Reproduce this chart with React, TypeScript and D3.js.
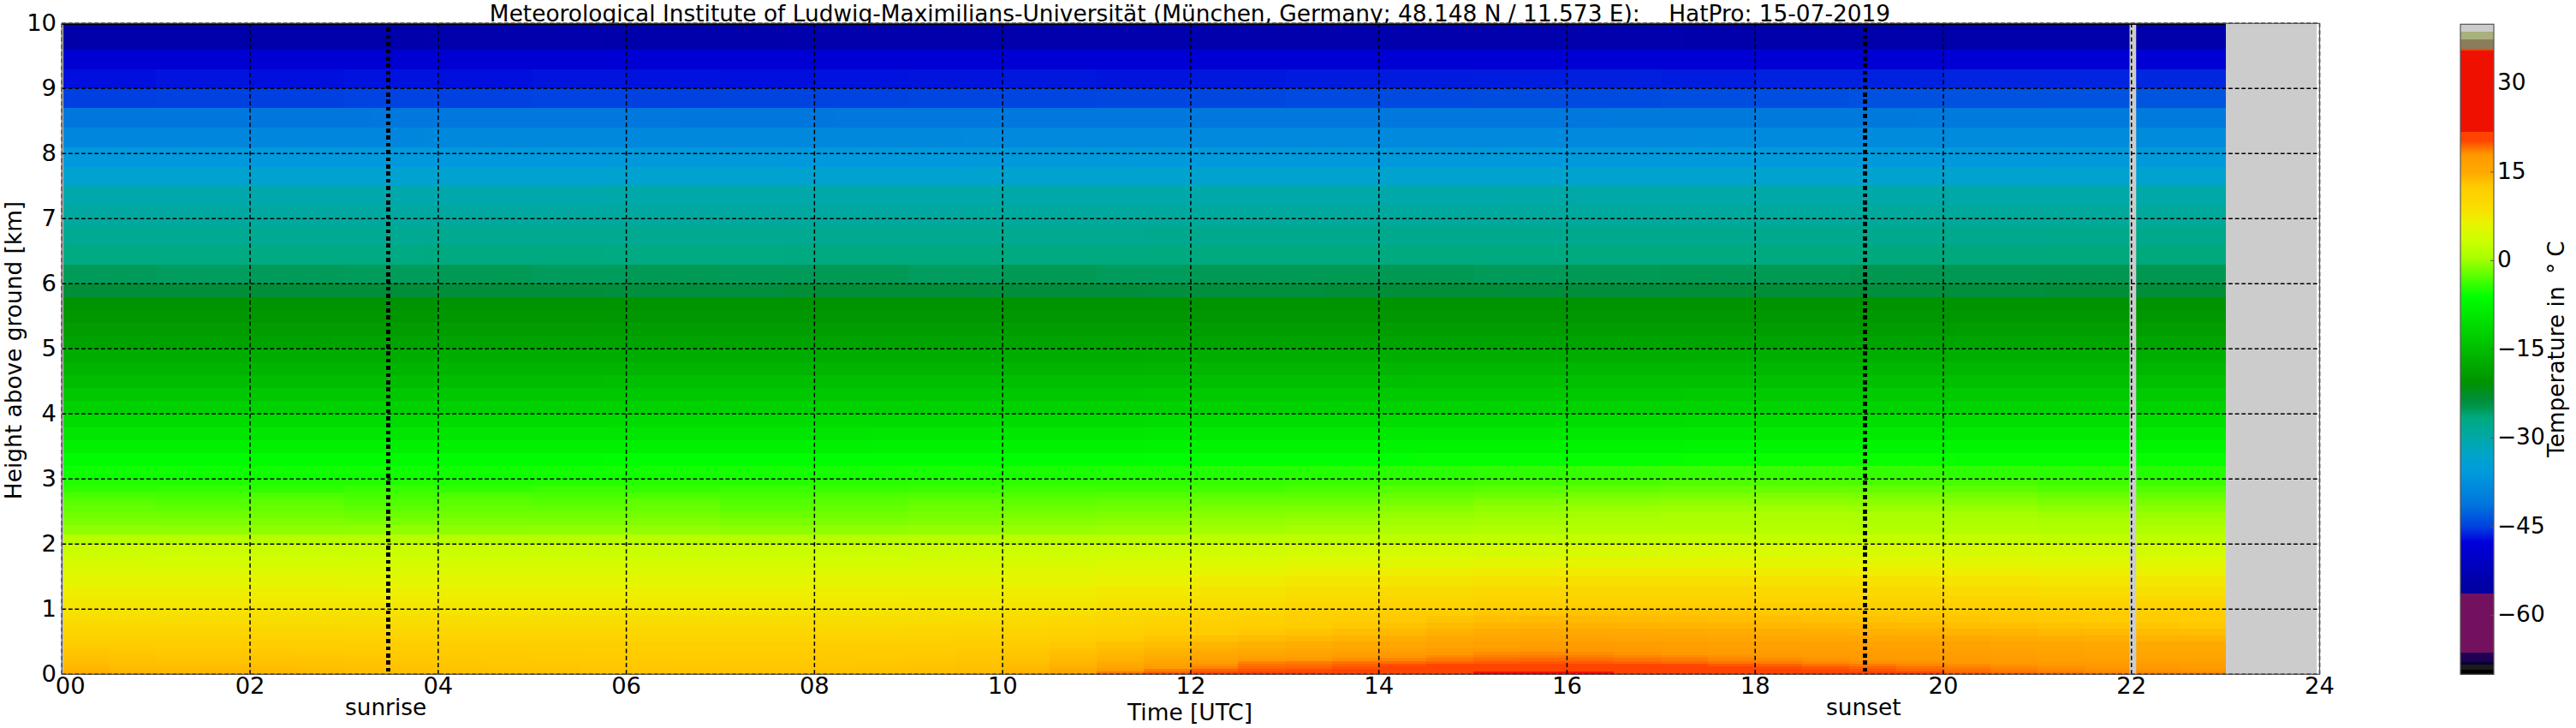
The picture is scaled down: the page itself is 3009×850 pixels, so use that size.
import React from "react";
import * as d3 from "d3";

const title = "Meteorological Institute of Ludwig-Maximilians-Universität (München, Germany; 48.148 N / 11.573 E):    HatPro: 15-07-2019";
const xTicks = [0, 2, 4, 6, 8, 10, 12, 14, 16, 18, 20, 22, 24];
const yTicks = [0, 1, 2, 3, 4, 5, 6, 7, 8, 9, 10];
const cbTicks = [30, 15, 0, -15, -30, -45, -60];
const sunrise = 3.47;
const sunset = 19.17;
const dataStart = 0.02;
const dataEnd = 23;
const greyEnd = 23.97;
const gap = [21.98, 22.05];

const cmapT = [-70, -69.2, -69.2, -68.2, -68.2, -67.8, -67.8, -66.2, -66.2, -56.2, -56.2, -54, -47.5, -45, -41, -36, -33, -30, -26.5, -25, -23.5, -22, -20.5, -6, 0.6, 3.5, 6.5, 7.5, 10, 12.6, 15, 18, 19.5, 20.4, 21.9, 21.9, 35.6, 35.6, 36, 36, 37.5, 37.5, 38.8, 38.8, 40];
const cmapC = ["#000000", "#000000", "#1a1a1a", "#1a1a1a", "#0a0030", "#0a0030", "#1e0055", "#1e0055", "#74115f", "#74115f", "#0000a0", "#0000aa", "#0000dd", "#0040e0", "#0077dd", "#0099dd", "#00a4cc", "#00a8a8", "#00aa80", "#009a55", "#008e3a", "#008f20", "#009300", "#00ff00", "#aaff00", "#ccff00", "#e8f400", "#f2ea00", "#fbd800", "#ffcc00", "#ffaa00", "#ff9900", "#ff6600", "#ff4400", "#ff4400", "#ee1100", "#ee1100", "#ff4500", "#ff4500", "#8a7d5c", "#8a7d5c", "#a8b07c", "#a8b07c", "#cccccc", "#cccccc"];

const rowBottoms = [9.6, 9.3, 9.0, 8.7, 8.4, 8.1, 7.8, 7.5, 7.2, 6.9, 6.6, 6.3, 6.0, 5.8, 5.6, 5.4, 5.2, 5.0, 4.8, 4.6, 4.4, 4.2, 4.0, 3.8, 3.6, 3.4, 3.2, 3.0, 2.9, 2.8, 2.7, 2.6, 2.5, 2.4, 2.3, 2.15, 2.0, 1.8, 1.65, 1.5, 1.35, 1.2, 1.1, 1.0, 0.9, 0.8, 0.7, 0.6, 0.5, 0.4, 0.35, 0.3, 0.25, 0.2, 0.16, 0.12, 0.08, 0.04, 0];

const r960 = [-54, -54, -53.8, -53.9, -53.8, -53.7, -53.8, -53.8, -53.8, -53.9, -54, -54];
const r930 = [-48.9, -48.8, -48.8, -48.7, -48.7, -48.6, -48.6, -48.6, -48.5, -48.6, -48.6, -48.5];
const r900 = [-46.9, -46.7, -46.9, -46.8, -46.9, -46.7, -46.8, -46.9, -46.8, -46.7, -46.6, -46.7, -46.6, -46.5, -46.5, -46.4, -46.3, -46.4, -46.2, -46.2, -46.1, -46.1, -46];
const r870 = [-45, -44.9, -45, -44.8, -44.9, -44.8, -44.9, -44.7, -44.8, -44.6, -44.6, -44.5, -44.5, -44.3, -44.3, -44.1, -44.2, -44, -44, -43.8, -43.7, -43.6, -43.5];
const r840 = [-41, -41, -40.9, -40.9, -41, -40.9, -40.9, -40.8, -40.8, -40.8, -40.7, -40.7, -40.6, -40.6];
const r810 = [-38.6, -38.6, -38.5, -38.5, -38.5, -38.4, -38.4, -38.3, -38.3, -38.2, -38.1, -38];
const r780 = [-36, -36, -36, -35.9, -36, -35.9, -35.9, -35.9, -35.8, -35.8, -35.8, -35.7];
const r750 = [-33.6, -33.6, -33.5, -33.6, -33.5, -33.5, -33.4, -33.4, -33.4, -33.3, -33.3, -33.2];
const r720 = [-30.3, -30.3, -30.3, -30.2, -30.2, -30.2, -30.1, -30.1, -30, -30, -30, -30];
const r690 = [-29.3, -29.3, -29.2, -29.2, -29.2, -29.1, -29.1, -29, -29, -29, -28.9, -28.9];
const r660 = [-28, -28, -27.9, -27.9, -27.8, -27.8, -27.7, -27.7, -27.7, -27.6, -27.6, -27.5];
const r630 = [-26.7, -26.7, -26.5, -26.7, -26.6, -26.5, -26.6, -26.6, -26.5, -26.5, -26.4, -26.4];
const r600 = [-25.1, -25.3, -25.1, -25.2, -25, -25.2, -25, -25.1, -25, -25.3, -25, -25.2, -25, -25, -24.9, -25.1, -25, -24.9, -25, -24.8, -24.9, -24.8, -24.8];
const r580 = [-23.4, -23.4, -23.5, -23.6, -23.3, -23.5, -23.6, -23.4, -23.5, -23.3, -23.6, -23.4];
const r560 = [-20.6, -20.6, -20.5, -20.5, -20.5, -20.5, -20.4, -20.4];
const r540 = [-20, -20, -19.9, -20, -19.9, -19.9, -19.8, -19.8];
const r520 = [-19.3, -19.3, -19.2, -19.2, -19.2, -19.1, -19.1, -19];
const r500 = [-18.5, -18.4, -18.4, -18.3, -18.3, -18.2, -18.2, -18.1];
const r480 = [-17.2, -17.2, -17.1, -17.1, -17, -17, -16.9, -16.9];
const r460 = [-16, -16, -15.9, -15.9, -15.8, -15.7, -15.7, -15.6];
const r440 = [-14.8, -14.8, -14.7, -14.7, -14.6, -14.5, -14.4, -14.4];
const r420 = [-13.5, -13.5, -13.4, -13.4, -13.3, -13.2, -13.1, -13.1];
const r400 = [-12.2, -12.2, -12.1, -12.1, -12, -11.9, -11.8, -11.8];
const r380 = [-10.8, -10.8, -10.7, -10.7, -10.5, -10.4, -10.3, -10.3];
const r360 = [-9.4, -9.4, -9.3, -9.2, -9, -8.9, -8.8, -8.8];
const r340 = [-8, -8, -7.9, -7.8, -7.6, -7.5, -7.4, -7.4];
const r320 = [-6.4, -6.4, -6.3, -6.2, -6, -5.8, -5.7, -5.8];
const r300 = [-5.5, -5.5, -5.4, -5.4, -5.4, -5.3, -5.3, -5.2, -5.2, -5.1, -5, -4.9, -4.7, -4.6, -4.4, -4.2, -4, -3.9, -3.9, -4, -4.2, -4.4, -4.6];
const r290 = [-4.7, -4.8, -4.7, -4.6, -4.8, -4.7, -4.6, -4.6, -4.5, -4.4, -4.3, -4.2, -4, -3.9, -3.6, -3.4, -3.2, -3, -3, -3.1, -3.3, -3.6, -3.8];
const r280 = [-4.1, -4, -4.2, -3.9, -4.1, -3.8, -4, -3.8, -3.9, -3.7, -3.6, -3.6, -3.4, -3.2, -2.8, -2.6, -2.3, -2.1, -2.1, -2.2, -2.4, -2.8, -2.9];
const r270 = [-3.2, -3.4, -3.1, -3.4, -3, -3.3, -3.1, -3.3, -3.1, -2.9, -2.9, -2.8, -2.6, -2.5, -2.1, -1.8, -1.4, -1.3, -1.2, -1.3, -1.5, -1.9, -2.1];
const r260 = [-2.5, -2.8, -2.4, -2.9, -2.5, -2.7, -2.3, -2.8, -2.5, -2.2, -2.3, -2.1, -1.9, -1.8, -1.4, -1, -0.7, -0.5, -0.5, -0.6, -0.8, -1.2, -1.3];
const r250 = [-2.1, -2.3, -2, -2.4, -2.1, -2.2, -1.9, -2.4, -2.1, -1.8, -1.8, -1.6, -1.3, -1.2, -0.8, -0.4, 0, 0.1, 0.2, 0.1, -0.1, -0.5, -0.7];
const r240 = [-1.7, -1.8, -1.6, -1.9, -1.7, -1.7, -1.5, -1.9, -1.7, -1.4, -1.3, -1.1, -0.8, -0.7, -0.3, 0, 0.4, 0.6, 0.7, 0.6, 0.4, 0.1, -0.1];
const r230 = [-1.2, -1.2, -1.1, -1.3, -1.2, -1.2, -1, -1.3, -1.2, -1, -0.8, -0.6, -0.3, -0.1, 0.2, 0.4, 0.8, 1, 1.1, 1, 0.9, 0.6, 0.4];
const r215 = [-0.4, -0.4, -0.5, -0.4, -0.5, -0.4, -0.3, -0.5, -0.4, -0.2, -0.1, 0, 0.3, 0.5, 0.8, 1, 1.3, 1.4, 1.5, 1.4, 1.3, 1.1, 1];
const r200 = [1.8, 1.8, 1.7, 1.7, 1.7, 1.7, 1.8, 1.7, 1.7, 1.8, 1.9, 2, 2.1, 2.2, 2.3, 2.5, 2.7, 2.8, 2.8, 2.8, 2.7, 2.5, 2.4];
const r180 = [3.4, 3.4, 3.3, 3.3, 3.3, 3.3, 3.3, 3.3, 3.3, 3.4, 3.5, 3.6, 3.8, 4, 4.2, 4.4, 4.6, 4.7, 4.7, 4.6, 4.5, 4.3, 4.1];
const r165 = [4.5, 4.4, 4.4, 4.3, 4.3, 4.3, 4.3, 4.3, 4.4, 4.5, 4.6, 4.9, 5.2, 5.5, 5.8, 6, 6.1, 6.2, 6.1, 6, 5.9, 5.7, 5.5];
const r150 = [5.4, 5.3, 5.3, 5.2, 5.2, 5.2, 5.2, 5.2, 5.3, 5.4, 5.6, 5.9, 6.4, 6.8, 7.1, 7.3, 7.4, 7.4, 7.3, 7.2, 7.1, 6.9, 6.7];
const r135 = [6.2, 6.1, 6.1, 6, 6, 6, 6, 6, 6.1, 6.2, 6.4, 6.8, 7.3, 7.9, 8.4, 8.8, 9, 8.9, 8.8, 8.7, 8.5, 8.1, 7.9];
const r120 = [7.1, 7, 7, 6.9, 6.9, 6.9, 6.9, 6.9, 7, 7, 7.3, 7.7, 8.3, 9, 9.6, 10.1, 10.3, 10.2, 10, 9.9, 9.7, 9.3, 9];
const r110 = [7.6, 7.6, 7.5, 7.4, 7.4, 7.4, 7.4, 7.4, 7.5, 7.6, 7.8, 8.3, 9, 9.7, 10.5, 11.1, 11.3, 11.2, 11, 10.9, 10.7, 10.4, 10.1];
const r100 = [8.2, 8.1, 8.1, 8, 7.9, 7.9, 7.9, 8, 8, 8.1, 8.4, 8.9, 9.7, 10.5, 11.4, 12, 12.4, 12.3, 12.1, 12, 11.8, 11.5, 11.2];
const r090 = [8.8, 8.7, 8.7, 8.6, 8.5, 8.5, 8.5, 8.5, 8.6, 8.7, 9, 9.6, 10.4, 11.2, 12.1, 12.9, 13.2, 13.1, 12.9, 12.7, 12.5, 12.2, 11.9];
const r080 = [9.4, 9.4, 9.3, 9.3, 9.3, 9.2, 9.2, 9.2, 9.1, 9.1, 9.1, 9.1, 9.1, 9.1, 9.1, 9.1, 9.2, 9.2, 9.3, 9.4, 9.6, 9.9, 10.3, 10.7, 11.2, 11.6, 11.9, 12.3, 12.7, 13.2, 13.6, 13.8, 13.9, 13.8, 13.7, 13.6, 13.5, 13.4, 13.3, 13.2, 13, 12.9, 12.7, 12.6, 12.5, 12.4];
const r070 = [10, 10, 9.9, 9.9, 9.8, 9.8, 9.8, 9.7, 9.7, 9.7, 9.7, 9.7, 9.7, 9.7, 9.7, 9.7, 9.8, 9.8, 9.9, 10.1, 10.3, 10.6, 11, 11.4, 11.9, 12.2, 12.5, 12.9, 13.3, 13.8, 14.2, 14.4, 14.5, 14.4, 14.3, 14.2, 14.1, 14, 13.9, 13.8, 13.6, 13.5, 13.3, 13.2, 13, 12.9];
const r060 = [10.8, 10.8, 10.7, 10.7, 10.6, 10.6, 10.5, 10.5, 10.5, 10.5, 10.4, 10.4, 10.4, 10.4, 10.4, 10.4, 10.5, 10.5, 10.6, 10.8, 11, 11.4, 11.8, 12.2, 12.6, 12.9, 13.2, 13.6, 14, 14.5, 14.9, 15.1, 15.2, 15.1, 15, 14.9, 14.8, 14.7, 14.6, 14.5, 14.3, 14.2, 14, 13.9, 13.7, 13.6];
const r050 = [11.6, 11.6, 11.5, 11.5, 11.4, 11.4, 11.3, 11.3, 11.2, 11.2, 11.2, 11.2, 11.1, 11.1, 11.1, 11.1, 11.2, 11.3, 11.4, 11.6, 11.8, 12.2, 12.6, 13, 13.4, 13.7, 14, 14.3, 14.7, 15.2, 15.6, 15.9, 16.2, 16.1, 15.9, 15.7, 15.5, 15.4, 15.3, 15.2, 15.1, 14.9, 14.7, 14.6, 14.4, 14.3];
const r040 = [12.6, 12.5, 12.4, 12.4, 12.3, 12.3, 12.2, 12.2, 12.1, 12.1, 12, 12, 12, 12, 12, 12, 12.1, 12.1, 12.2, 12.4, 12.6, 12.9, 13.3, 13.7, 14.2, 14.5, 14.8, 15.2, 15.6, 16.3, 17, 17.3, 17.6, 17.4, 17.2, 17, 16.8, 16.7, 16.6, 16.5, 16.4, 16.1, 15.8, 15.5, 15.2, 15.1];
const r035 = [13, 12.8, 12.7, 12.7, 12.7, 12.6, 12.5, 12.4, 12.4, 12.4, 12.4, 12.3, 12.3, 12.3, 12.3, 12.4, 12.4, 12.5, 12.6, 12.7, 12.9, 13.3, 13.7, 14.2, 14.7, 15, 15.4, 15.9, 16.6, 17.4, 17.9, 18, 17.9, 17.7, 17.5, 17.3, 17.1, 17, 16.9, 16.8, 16.6, 16.3, 16, 15.7, 15.4, 15.2];
const r030 = [13.2, 13, 12.9, 12.9, 12.9, 12.8, 12.7, 12.7, 12.6, 12.6, 12.5, 12.5, 12.5, 12.5, 12.5, 12.5, 12.6, 12.6, 12.7, 12.9, 13.1, 13.5, 14, 14.5, 15.1, 15.6, 16.2, 16.8, 17.6, 18, 18.4, 18.5, 18.4, 18.2, 18, 17.9, 17.7, 17.5, 17.4, 17.3, 17.1, 16.8, 16.4, 16.1, 15.8, 15.6];
const r025 = [13.3, 13.2, 13.1, 13.1, 13.1, 13, 12.9, 12.8, 12.8, 12.7, 12.7, 12.6, 12.6, 12.6, 12.6, 12.6, 12.7, 12.7, 12.8, 13, 13.2, 13.7, 14.2, 14.8, 15.6, 16.4, 17, 17.6, 18.1, 18.5, 18.8, 18.9, 18.8, 18.6, 18.4, 18.2, 18, 17.9, 17.7, 17.5, 17.4, 17.1, 16.7, 16.4, 16.1, 15.9];
const r020 = [13.5, 13.3, 13.2, 13.2, 13.2, 13.1, 13, 12.9, 12.8, 12.8, 12.7, 12.7, 12.7, 12.6, 12.7, 12.7, 12.8, 12.8, 12.9, 13.1, 13.3, 13.9, 14.4, 15.3, 16.6, 17.4, 17.9, 18.3, 18.6, 19, 19.3, 19.4, 19.3, 19.1, 18.9, 18.6, 18.4, 18.2, 18, 17.8, 17.6, 17.3, 17, 16.7, 16.5, 16.2];
const r016 = [13.7, 13.5, 13.4, 13.4, 13.4, 13.3, 13.2, 13.1, 13, 12.9, 12.9, 12.8, 12.8, 12.8, 12.8, 12.8, 12.9, 13, 13.1, 13.2, 13.5, 14.1, 14.9, 16, 17.4, 18.7, 18.9, 19.2, 19.4, 19.6, 19.8, 19.9, 19.8, 19.6, 19.4, 19.1, 18.8, 18.5, 18.3, 18.2, 18, 17.8, 17.6, 17.4, 17.2, 17];
const r012 = [13.9, 13.6, 13.5, 13.6, 13.5, 13.4, 13.3, 13.2, 13.1, 13, 13, 12.9, 12.9, 12.9, 12.9, 12.9, 13, 13.1, 13.2, 13.3, 13.7, 14.3, 15.4, 16.8, 18.2, 19.2, 19.3, 19.6, 20.1, 20.5, 20.7, 20.8, 20.7, 20.5, 20.3, 19.9, 19.6, 19.2, 18.9, 18.6, 18.4, 18.2, 18, 17.9, 17.7, 17.6];
const r008 = [14.1, 13.8, 13.7, 13.8, 13.7, 13.6, 13.4, 13.3, 13.2, 13.1, 13.1, 13, 13, 13, 13, 13, 13.1, 13.2, 13.3, 13.5, 13.9, 14.7, 16, 17.4, 18.7, 19.5, 19.6, 20, 20.5, 20.7, 21, 21.1, 21, 20.7, 20.5, 20.4, 20.2, 19.9, 19.6, 19.2, 18.8, 18.5, 18.3, 18.1, 18, 17.9];
const r004 = [14.4, 14, 13.9, 14, 13.9, 13.7, 13.5, 13.4, 13.3, 13.2, 13.2, 13.1, 13.1, 13.1, 13.1, 13.1, 13.2, 13.3, 13.4, 13.6, 14.1, 15.1, 17.5, 18.8, 19.6, 20, 20.2, 20.4, 20.8, 21.1, 21.5, 21.7, 21.6, 21, 20.6, 20.5, 20.4, 20.3, 20, 19.6, 19.2, 18.8, 18.5, 18.3, 18.2, 18.1];
const r000 = [14.6, 14.2, 14, 14.2, 14, 13.8, 13.6, 13.5, 13.4, 13.3, 13.3, 13.2, 13.2, 13.1, 13.2, 13.2, 13.3, 13.4, 13.5, 13.8, 14.4, 15.5, 18.8, 19.6, 20.2, 20.4, 20.5, 20.8, 21.2, 21.6, 22.1, 22.3, 22.2, 21.5, 21, 20.8, 20.7, 20.6, 20.5, 20.3, 19.6, 19.2, 18.9, 18.6, 18.5, 18.4];

const rowValues = [r960, r930, r900, r870, r840, r810, r780, r750, r720, r690, r660, r630, r600, r580, r560, r540, r520, r500, r480, r460, r440, r420, r400, r380, r360, r340, r320, r300, r290, r280, r270, r260, r250, r240, r230, r215, r200, r180, r165, r150, r135, r120, r110, r100, r090, r080, r070, r060, r050, r040, r035, r030, r025, r020, r016, r012, r008, r004, r000];

const W = 3009;
const H = 850;
const FONT = "'DejaVu Sans', sans-serif";
const FS = 27.4;
const LS = 26.4;

const x = d3.scaleLinear().domain([0, 24]).range([72.3, 2709.5]);
const y = d3.scaleLinear().domain([0, 10]).range([787.3, 27.3]);
const cbY = d3.scaleLinear().domain([-70, 40]).range([787.3, 28.3]);
const color = d3.scaleLinear<string>().domain(cmapT).range(cmapC).interpolate(d3.interpolateRgb);

const cbEdges = d3.range(787.3, 28.3, -1);

export default function App() {
  const cells: React.ReactNode[] = [];
  rowValues.forEach((vals, r) => {
    const bottom = rowBottoms[r];
    const top = r === 0 ? 10 : rowBottoms[r - 1];
    const col = d3.scaleLinear().domain([0, vals.length]).range([0, dataEnd]);
    vals.forEach((v, i) => {
      const x0 = x(Math.max(col(i), dataStart));
      const x1 = x(col(i + 1));
      cells.push(
        <rect key={`${r}-${i}`} x={x0} y={y(top)} width={x1 - x0 + 0.5} height={y(bottom) - y(top) + 0.5} fill={color(v)} shapeRendering="crispEdges" />
      );
    });
  });

  return (
    <svg width={W} height={H} viewBox={`0 0 ${W} ${H}`} style={{ position: "absolute", left: 0, top: 0, background: "#fff" }} fontFamily={FONT} fill="#000">
      <text x={1390} y={25} fontSize={LS} textAnchor="middle" style={{ whiteSpace: "pre" }}>{title}</text>

      <rect x={x(0)} y={y(10)} width={x(greyEnd) - x(0)} height={y(0) - y(10)} fill="#cccccc" />
      {cells}
      <rect x={x(gap[0])} y={y(10)} width={x(gap[1]) - x(gap[0])} height={y(0) - y(10)} fill="#cccccc" />

      {yTicks.map((t) => (
        <line key={t} x1={x(0)} x2={x(24)} y1={y(t)} y2={y(t)} stroke="#000" strokeWidth={1.5} strokeDasharray="4.8 2.8" />
      ))}
      {xTicks.map((t) => (
        <line key={t} x1={x(t)} x2={x(t)} y1={y(0)} y2={y(10)} stroke="#000" strokeWidth={1.5} strokeDasharray="5 3.3" />
      ))}
      {[sunrise, sunset].map((t) => (
        <line key={t} x1={x(t)} x2={x(t)} y1={y(10) + 5} y2={y(0)} stroke="#000" strokeWidth={5} strokeDasharray="4.6 3.8" shapeRendering="crispEdges" />
      ))}
      <rect x={x(0)} y={y(10)} width={x(24) - x(0)} height={y(0) - y(10)} fill="none" stroke="#555" strokeWidth={1.2} />
      <line x1={x(0)} x2={x(23)} y1={y(10) + 1} y2={y(10) + 1} stroke="#000" strokeWidth={1.3} />

      {xTicks.map((t) => (
        <text key={t} x={x(t) + (t === 0 ? 10 : 0)} y={810} fontSize={FS} textAnchor="middle">{String(t).padStart(2, "0")}</text>
      ))}
      {yTicks.map((t) => (
        <text key={t} x={66} y={y(t) + 8.5} fontSize={FS} textAnchor="end">{t}</text>
      ))}
      <text x={x(sunrise) - 3} y={835} fontSize={LS} textAnchor="middle">sunrise</text>
      <text x={x(sunset) - 2} y={835} fontSize={LS} textAnchor="middle">sunset</text>
      <text x={1390} y={841} fontSize={LS} textAnchor="middle">Time [UTC]</text>
      <text transform={`translate(25,${409}) rotate(-90)`} fontSize={LS} textAnchor="middle">Height above ground [km]</text>

      {cbEdges.map((e) => (
        <rect key={e} x={2874} y={e - 1} width={39} height={1.4} fill={color(cbY.invert(e - 0.5))} shapeRendering="crispEdges" />
      ))}
      <rect x={2874} y={28.3} width={39} height={759} fill="none" stroke="#555" strokeWidth={1.2} />
      {cbTicks.map((t) => (
        <g key={t}>
          <line x1={2909} x2={2913} y1={cbY(t)} y2={cbY(t)} stroke="#555" strokeWidth={1} />
          <text x={2917} y={cbY(t) + 8} fontSize={LS} textAnchor="start">{t < 0 ? `\u2212${-t}` : t}</text>
        </g>
      ))}
      <text transform={`translate(2995,534) rotate(-90)`} fontSize={LS} textAnchor="start" style={{ whiteSpace: "pre" }}>
        {"Temperature in "}
        <tspan dx={6}>{"\u00b0"}</tspan>
        <tspan dx={7}>C</tspan>
      </text>
    </svg>
  );
}
